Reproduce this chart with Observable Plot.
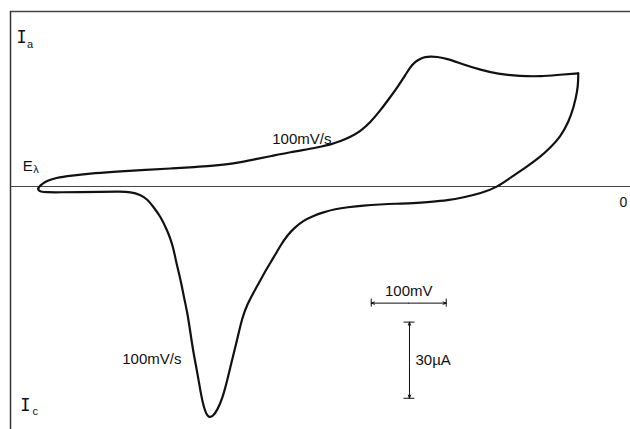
<!DOCTYPE html>
<html><head><meta charset="utf-8">
<script src="https://cdn.jsdelivr.net/npm/d3@7"></script>
<script src="https://cdn.jsdelivr.net/npm/@observablehq/plot@0.6"></script>
<style>html,body{margin:0;padding:0;background:#fff;} #chart svg{display:block;}</style>
</head><body><div id="chart"></div>
<script>
// Potential E (mV, relative to the "0" mark) and current I (µA)
// Forward (anodic) scan from E_lambda to the switching potential
const forwardE = [-779, -778, -776, -773, -767, -756, -736, -703, -669, -636, -603, -569, -549, -529, -509, -489, -469, -443, -416, -403, -389, -376, -363, -349, -336, -323, -309, -300, -289, -283, -276, -269, -263, -256, -248, -233, -212, -189, -167, -136, -109, -83, -59];
const forwardI = [-0.8, -0.2, 0.4, 1.2, 2.2, 3.4, 4.3, 5.3, 6.0, 6.6, 7.1, 7.7, 8.1, 8.7, 9.6, 10.8, 12.0, 13.6, 14.9, 15.7, 16.6, 17.9, 19.5, 21.9, 25.4, 30.0, 35.6, 39.3, 44.3, 47.2, 49.4, 50.6, 51.2, 51.4, 51.3, 50.5, 48.2, 46.1, 44.5, 43.6, 43.5, 44.2, 44.7];
// Reverse (cathodic) scan back to E_lambda
const reverseE = [-59, -59, -60, -65, -72, -83, -96, -109, -129, -149, -167, -189, -212, -233, -256, -279, -303, -323, -345, -367, -383, -399, -413, -425, -437, -447, -456, -465, -475, -483, -492, -500, -507, -513, -520, -527, -533, -540, -546, -552, -558, -563, -567, -572, -576, -580, -585, -589, -595, -599, -603, -607, -616, -625, -633, -643, -656, -669, -696, -723, -749, -769, -776, -779, -779];
const reverseI = [44.7, 42.0, 37.9, 31.3, 25.4, 19.5, 15.4, 11.8, 7.5, 3.6, -0.3, -2.7, -4.3, -5.5, -6.1, -6.6, -6.8, -7.1, -7.5, -8.2, -8.9, -10.2, -11.7, -13.4, -16.2, -19.3, -23.3, -28.0, -32.8, -37.2, -41.9, -46.4, -51.8, -59.6, -67.9, -76.6, -83.4, -88.3, -90.8, -91.6, -88.0, -80.5, -73.4, -65.9, -58.0, -50.1, -43.4, -37.1, -30.0, -24.1, -20.5, -17.4, -11.8, -8.3, -5.1, -3.2, -2.2, -2.0, -2.1, -2.2, -2.3, -2.3, -2.0, -1.4, -0.8];

// Plot window (mV, µA)
const eDomain = [-816, 10.7];
const iDomain = [-96.05, 69.17];

// Scale bars
const potentialBar = [-335, -235];   // 100 mV
const potentialBarLevel = -46.1;
const currentBar = [-53.6, -83.7];   // 30 µA
const currentBarE = -284;

// Labels
const sweepLabels = ["100mV/s", "100mV/s"];
const sweepLabelE = [-467, -667];
const sweepLabelI = [18.6, -68.2];
const potentialBarLabel = ["100mV"];
const potentialBarLabelE = [-285];
const potentialBarLabelI = [-41.5];
const currentBarLabel = ["30\u00b5A"];
const currentBarLabelE = [-276];
const currentBarLabelI = [-68.8];
const zeroLabel = ["0"];
const zeroLabelE = [1.3];
const zeroLabelI = [-6.3];
const currentLetters = ["I", "I"];
const currentLetterE = [-801, -796];
const currentLetterI = [58.9, -86.6];
const potentialLetter = ["E"];
const potentialLetterE = [-793];
const potentialLetterI = [8.2];
const axisSubs = ["a", "c", "\u03bb"];
const axisSubE = [-790, -783, -782];
const axisSubI = [56.3, -89.0, 6.6];

const fwd = forwardE.map((e, k) => ({E: e, I: forwardI[k]}));
const rev = reverseE.map((e, k) => ({E: e, I: reverseI[k]}));
const tbl = (t, xs, ys) => t.map((s, k) => ({text: s, E: xs[k], I: ys[k]}));
const ink = "#111";
const font = "Liberation Sans, Arial, sans-serif";

const barMidE = (potentialBar[0] + potentialBar[1]) / 2;
const barMidI = (currentBar[0] + currentBar[1]) / 2;

const chart = Plot.plot({
  width: 630,
  height: 429,
  marginLeft: 10,
  marginTop: 11,
  marginRight: 0,
  marginBottom: 0,
  x: {domain: eDomain, axis: null},
  y: {domain: iDomain, axis: null},
  marks: [
    Plot.ruleY([iDomain[1]], {stroke: "#444", strokeWidth: 1.3}),
    Plot.ruleX([eDomain[0]], {stroke: "#333", strokeWidth: 1.5}),
    Plot.ruleY([0], {stroke: "#444", strokeWidth: 1}),
    Plot.line(fwd, {x: "E", y: "I", stroke: ink, strokeWidth: 2.2, curve: "basis"}),
    Plot.line(rev, {x: "E", y: "I", stroke: ink, strokeWidth: 2.2, curve: "basis"}),
    // potential scale bar
    Plot.arrow(potentialBar, {x1: () => barMidE, y1: () => potentialBarLevel, x2: d => d, y2: () => potentialBarLevel, stroke: ink, strokeWidth: 1, headLength: 5, headAngle: 40}),
    Plot.ruleX(potentialBar, {x: d => d, y1: potentialBarLevel - 1.6, y2: potentialBarLevel + 1.6, stroke: ink, strokeWidth: 1}),
    // current scale bar
    Plot.arrow(currentBar, {x1: () => currentBarE, y1: () => barMidI, x2: () => currentBarE, y2: d => d, stroke: ink, strokeWidth: 1, headLength: 5, headAngle: 40}),
    Plot.ruleY(currentBar, {y: d => d, x1: currentBarE - 7.3, x2: currentBarE + 7.3, stroke: ink, strokeWidth: 1}),
    // labels
    Plot.text(tbl(sweepLabels, sweepLabelE, sweepLabelI), {x: "E", y: "I", text: "text", textAnchor: "start", fontSize: 15, fontFamily: font, fill: ink}),
    Plot.text(tbl(potentialBarLabel, potentialBarLabelE, potentialBarLabelI), {x: "E", y: "I", text: "text", textAnchor: "middle", fontSize: 15, fontFamily: font, fill: ink}),
    Plot.text(tbl(currentBarLabel, currentBarLabelE, currentBarLabelI), {x: "E", y: "I", text: "text", textAnchor: "start", fontSize: 15, fontFamily: font, fill: ink}),
    Plot.text(tbl(zeroLabel, zeroLabelE, zeroLabelI), {x: "E", y: "I", text: "text", fontSize: 14, fontFamily: font, fill: ink}),
    Plot.text(tbl(currentLetters, currentLetterE, currentLetterI), {x: "E", y: "I", text: "text", fontSize: 17, fontFamily: "DejaVu Sans Mono", fill: ink}),
    Plot.text(tbl(potentialLetter, potentialLetterE, potentialLetterI), {x: "E", y: "I", text: "text", fontSize: 15, fontFamily: font, fill: ink}),
    Plot.text(tbl(axisSubs, axisSubE, axisSubI), {x: "E", y: "I", text: "text", fontSize: 11, fontFamily: font, fill: ink})
  ]
});
document.getElementById("chart").append(chart);
</script>
</body></html>
